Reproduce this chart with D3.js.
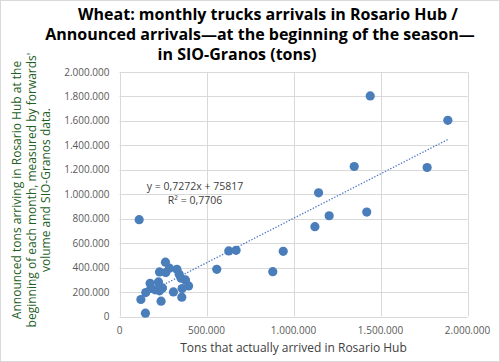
<!DOCTYPE html>
<html>
<head>
<meta charset="utf-8">
<script src="https://cdn.jsdelivr.net/npm/d3@7"></script>
<style>
  body { margin: 0; background: #fff; }
  svg { display: block; font-family: "Open Sans", "Noto Sans", sans-serif; }
</style>
</head>
<body>
<div id="chart"></div>
<script>
// tons actually arrived (x) vs announced arrivals (y)
const actualTons = [
  1441000, 1887000, 1349000, 1768000, 1144000, 1205000, 1421000, 1123000,
  113000, 941000, 881000, 628000, 670000, 559000,
  264000, 230000, 266000, 287000, 330000, 343000, 354000, 379000, 397000,
  360000, 358000, 310000, 224000, 176000, 180000, 205000, 230000, 247000,
  239000, 151000, 123000, 149000
];
const announcedTons = [
  1804000, 1605000, 1227000, 1219000, 1012000, 824000, 854000, 735000,
  792000, 533000, 367000, 536000, 541000, 386000,
  444000, 365000, 359000, 395000, 386000, 346000, 313000, 299000, 250000,
  229000, 158000, 201000, 283000, 272000, 229000, 218000, 210000, 234000,
  125000, 196000, 139000, 27000
];
const slope = 0.7272, intercept = 75817;
const xTicks = [0, 500000, 1000000, 1500000, 2000000];
const yTicks = [0, 200000, 400000, 600000, 800000, 1000000, 1200000, 1400000, 1600000, 1800000, 2000000];

const width = 500, height = 362;
const margin = { left: 119.5, right: 32.5, top: 72, bottom: 45.5 };

const locale = d3.formatLocale({ decimal: ",", thousands: ".", grouping: [3], currency: ["$", ""] });
const fmt = locale.format(",.0f");

const svg = d3.select("#chart").append("svg")
  .attr("width", width)
  .attr("height", height);

svg.append("rect")
  .attr("x", 0.5).attr("y", 0.5)
  .attr("width", width - 1).attr("height", height - 1)
  .attr("fill", "#fff")
  .attr("stroke", "#d9d9d9");

const x = d3.scaleLinear().domain([0, 2000000]).range([margin.left, width - margin.right]);
const y = d3.scaleLinear().domain([0, 2000000]).range([height - margin.bottom, margin.top]);

// gridlines
svg.append("g")
  .selectAll("line")
  .data(yTicks)
  .enter().append("line")
  .attr("x1", x(0)).attr("x2", x(2000000))
  .attr("y1", d => Math.round(y(d)) + 0.5).attr("y2", d => Math.round(y(d)) + 0.5)
  .attr("stroke", "#d9d9d9");

svg.append("g")
  .selectAll("line")
  .data(xTicks)
  .enter().append("line")
  .attr("x1", d => Math.round(x(d)) + 0.5).attr("x2", d => Math.round(x(d)) + 0.5)
  .attr("y1", y(0)).attr("y2", y(2000000))
  .attr("stroke", "#d9d9d9");

// tick labels
svg.append("g")
  .selectAll("text")
  .data(yTicks)
  .enter().append("text")
  .attr("x", x(0) - 10)
  .attr("y", d => y(d) + 3.5)
  .attr("text-anchor", "end")
  .attr("font-size", "10px")
  .attr("fill", "#595959")
  .text(d => fmt(d));

svg.append("g")
  .selectAll("text")
  .data(xTicks)
  .enter().append("text")
  .attr("x", d => x(d))
  .attr("y", y(0) + 17)
  .attr("text-anchor", "middle")
  .attr("font-size", "10px")
  .attr("fill", "#595959")
  .text(d => fmt(d));

// trendline
const xMin = d3.min(actualTons), xMax = d3.max(actualTons);
svg.append("line")
  .attr("x1", x(xMin)).attr("y1", y(slope * xMin + intercept))
  .attr("x2", x(xMax)).attr("y2", y(slope * xMax + intercept))
  .attr("stroke", "#4472c4")
  .attr("stroke-width", 1.3)
  .attr("stroke-dasharray", "1.3,1.7");

// points
svg.append("g")
  .selectAll("circle")
  .data(actualTons)
  .enter().append("circle")
  .attr("cx", d => x(d))
  .attr("cy", (d, i) => y(announcedTons[i]))
  .attr("r", 4.6)
  .attr("fill", "#4a7ebb");

// equation
const eq = svg.append("text")
  .attr("text-anchor", "middle")
  .attr("font-size", "10.5px")
  .attr("fill", "#404040");
eq.append("tspan").attr("x", 195).attr("y", 190).text("y = 0,7272x + 75817");
eq.append("tspan").attr("x", 195).attr("y", 203.5).text("R² = 0,7706");

// title
const title = svg.append("text")
  .attr("text-anchor", "middle")
  .attr("font-size", "16px")
  .attr("font-weight", "bold")
  .attr("fill", "#000");
title.append("tspan").attr("x", 268).attr("y", 20).text("Wheat: monthly trucks arrivals in Rosario Hub /");
title.append("tspan").attr("x", 260).attr("y", 40).text("Announced arrivals\u2014at the beginning of the season\u2014");
title.append("tspan").attr("x", 237).attr("y", 60).text("in SIO-Granos (tons)");

// axis titles
svg.append("text")
  .attr("x", x(1000000))
  .attr("y", 352)
  .attr("text-anchor", "middle")
  .attr("font-size", "12px")
  .attr("fill", "#404040")
  .text("Tons that actually arrived in Rosario Hub");

const yLabel = svg.append("text")
  .attr("transform", "translate(0,190) rotate(-90)")
  .attr("text-anchor", "middle")
  .attr("font-size", "12px")
  .attr("fill", "#1f5f1f");
yLabel.append("tspan").attr("x", 0).attr("y", 21).text("Announced tons arriving in Rosario Hub at the");
yLabel.append("tspan").attr("x", 0).attr("y", 36).text("beginning of each month, measured by forwards'");
yLabel.append("tspan").attr("x", 0).attr("y", 50).text("volume and SIO-Granos data.");
</script>
</body>
</html>
